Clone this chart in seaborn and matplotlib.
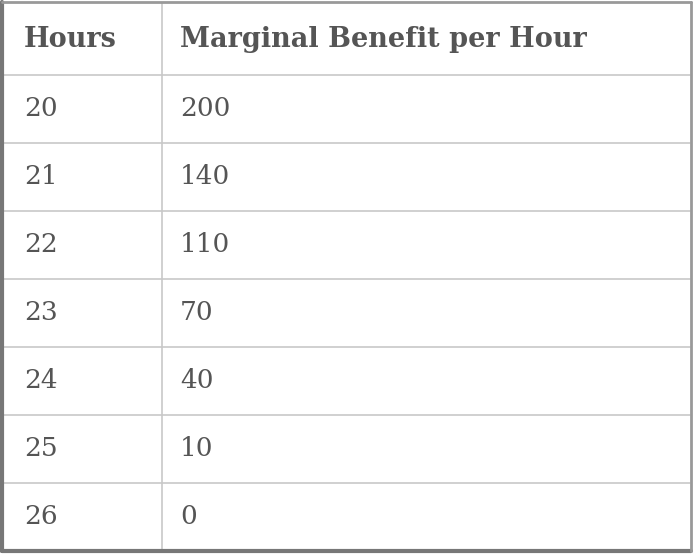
import matplotlib
matplotlib.use("Agg")
import matplotlib.pyplot as plt
import seaborn as sns

# table data
columns = ["Hours", "Marginal Benefit per Hour"]
hours = ["20", "21", "22", "23", "24", "25", "26"]
benefit = ["200", "140", "110", "70", "40", "10", "0"]

sns.set_style("white")
plt.rcParams["font.family"] = ["DejaVu Serif"]

fig = plt.figure(figsize=(6.94, 5.56), dpi=100)
ax = fig.add_axes([0, 0, 1, 1])
ax.set_xlim(0, 694)
ax.set_ylim(556, 0)
ax.axis("off")

text_color = "#555555"
grid_color = "#c8c8c8"
header_h = 75
row_h = 68
col_x = [24, 180]
divider_x = 162

# grid lines
for i in range(len(hours)):
    y = header_h + i * row_h
    ax.plot([3, 690], [y, y], color=grid_color, lw=1.2)
ax.plot([divider_x, divider_x], [3, 550], color=grid_color, lw=1.2)

# outer border
ax.plot([2, 2], [2, 551], color="#777777", lw=3)
ax.plot([2, 691], [551, 551], color="#777777", lw=3)
ax.plot([2, 691], [2, 2], color="#999999", lw=2)
ax.plot([691, 691], [2, 551], color="#999999", lw=2)

# header
for x, label in zip(col_x, columns):
    ax.text(x, header_h / 2 + 2, label, fontsize=19.5, fontweight="bold",
            color=text_color, va="center", ha="left")

# body rows
for i, (h, b) in enumerate(zip(hours, benefit)):
    yc = header_h + i * row_h + row_h / 2
    ax.text(col_x[0], yc, h, fontsize=19, color=text_color, va="center", ha="left")
    ax.text(col_x[1], yc, b, fontsize=19, color=text_color, va="center", ha="left")

fig.savefig("out.png", dpi=100)
